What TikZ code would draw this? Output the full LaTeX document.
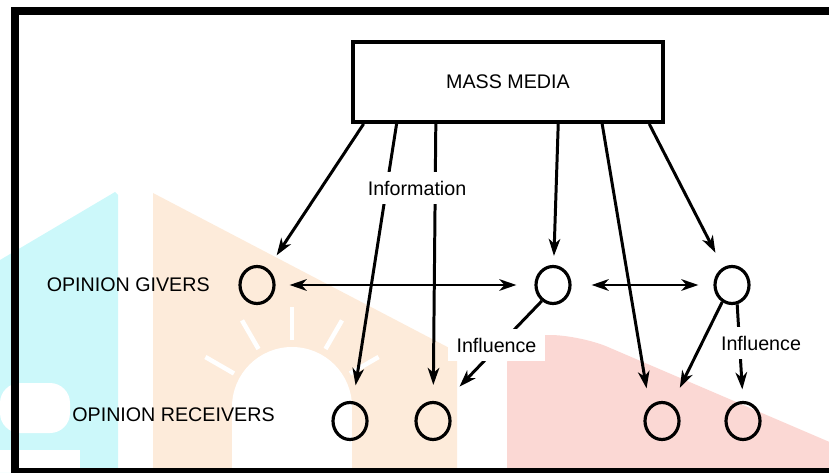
\documentclass[tikz,border=0pt]{standalone}
\usepackage{fontspec}
\setmainfont{Liberation Sans}
\usepackage{tikz}
\usetikzlibrary{positioning,calc,arrows.meta,shapes.geometric}
\definecolor{wmcyan}{HTML}{CCF8FA}
\definecolor{wmpeach}{HTML}{FDEBDA}
\definecolor{wmpink}{HTML}{FBD8D4}

\begin{document}
\begin{tikzpicture}[
    person/.style={draw, ellipse, line width=1.8pt, minimum width=0.68cm, minimum height=0.74cm, inner sep=0pt},
    flow/.style={-{Stealth[length=3.4mm,width=2.3mm,inset=1mm]}, line width=1.7pt},
    twoway/.style={{Stealth[length=3.4mm,width=2.3mm,inset=1mm]}-{Stealth[length=3.4mm,width=2.3mm,inset=1mm]}, line width=1.7pt},
    lbl/.style={font=\fontsize{11.2}{13}\selectfont},
    gap/.style={lbl, fill=white, inner sep=0.17cm}
]
    \useasboundingbox (0,0) rectangle (16.58,9.44);
    \clip (0,0) rectangle (16.58,9.44);

    % watermark behind the figure
    \fill[wmcyan] (0,0) -- (0,4.24) -- (2.30,5.6) -- (2.36,5.54) -- (2.36,0) -- cycle;
    \fill[white, rounded corners=0.4cm] (0,0.78) -- (0,1.78) -- (1.4,1.78) -- (1.4,0.78) -- cycle;
    \fill[white] (0,0) rectangle (1.6,0.44);
    \fill[wmpeach] (3.06,0) -- (3.06,5.58) -- (9.14,2.4) -- (9.14,0) -- cycle;
    \fill[white] (5.84,1.3) circle (1.2);
    \fill[white] (4.64,0) rectangle (7.04,1.3);
    \foreach \a in {30,60,...,150}
        \draw[white, line width=0.09cm] (5.84,1.3) ++(\a:1.34) -- ++(\a:0.66);
    \fill[wmpink, rounded corners=0.6cm] (10.14,-1) -- (10.14,2.74) -- (11.6,2.74) -- (17.5,0.21) -- (17.5,-1) -- cycle;

    % frame, open on the right
    \draw[line width=0.16cm] (17.5,9.22) -- (0.30,9.22) -- (0.30,0) -- (17.5,0);

    \node[draw, line width=2.2pt, minimum width=6.2cm, minimum height=1.6cm, lbl] (media) at (10.16,7.8) {MASS MEDIA};

    \node[person] (g1) at (5.14,3.74) {};
    \node[person] (g2) at (11.06,3.74) {};
    \node[person] (g3) at (14.64,3.74) {};
    \node[person] (r1) at (7.0,1.02) {};
    \node[person] (r2) at (8.66,1.02) {};
    \node[person] (r3) at (13.24,1.02) {};
    \node[person] (r4) at (14.86,1.02) {};

    \node[lbl, left=0.45cm of g1] (givers) {OPINION GIVERS};
    \node[lbl] (receivers) at (3.47,1.14) {OPINION RECEIVERS};

    % information from the media
    \draw[flow, shorten >=0.32cm] ($(media.south west)!0.04!(media.south east)$) -- (g1);
    \draw[flow, shorten >=0.32cm] ($(media.south west)!0.145!(media.south east)$) -- (r1);
    \draw[flow, shorten >=0.32cm] ($(media.south west)!0.27!(media.south east)$) -- (r2);
    \draw[flow, shorten >=0.18cm] ($(media.south west)!0.66!(media.south east)$) -- (g2);
    \draw[flow, shorten >=0.36cm] ($(media.south west)!0.80!(media.south east)$) -- (r3.130);
    \draw[flow, shorten >=0.33cm] ($(media.south west)!0.95!(media.south east)$) -- (g3);
    \node[gap] (info) at (8.34,5.68) {Information};

    % givers talk to each other
    \draw[twoway, shorten <=0.28cm, shorten >=0.36cm] (g1) -- (g2);
    \draw[twoway, shorten <=0.4cm, shorten >=0.3cm] (g2) -- (g3);

    % influence on receivers
    \draw[flow, shorten >=0.48cm] (g2.235) -- (r2.60);
    \node[gap] (infl1) at (9.93,2.54) {Influence};
    \draw[flow, shorten >=0.36cm] (g3.240) -- (r3.60);
    \draw[flow, shorten >=0.23cm] (g3.-75) -- (r4.north);
    \node[gap] (infl2) at (15.22,2.58) {Influence};
\end{tikzpicture}
\end{document}
